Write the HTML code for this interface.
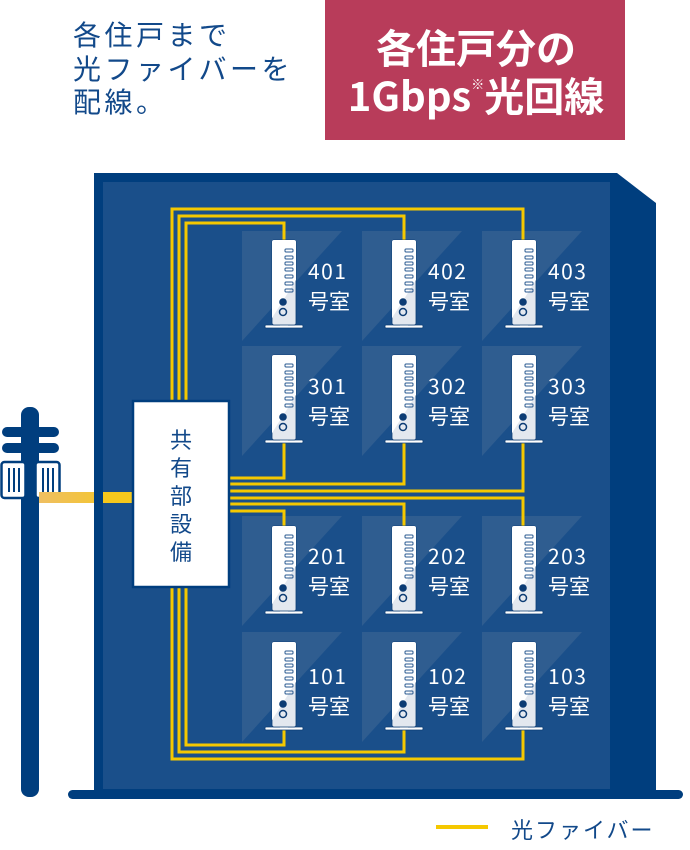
<!DOCTYPE html>
<html><head><meta charset="utf-8"><style>
html,body{margin:0;padding:0;background:#fff;width:690px;height:850px;overflow:hidden}
svg{display:block}
.t{font-family:"Liberation Sans","Noto Sans CJK JP",sans-serif}
.n{font-family:"Noto Sans CJK JP","Liberation Sans",sans-serif}
</style></head><body>
<svg width="690" height="850" viewBox="0 0 690 850" xmlns="http://www.w3.org/2000/svg">
<defs>
<linearGradient id="fg" x1="0" x2="1" y1="0" y2="0"><stop offset="0" stop-color="#efbf62"/><stop offset="1" stop-color="#f6c81c"/></linearGradient>
<clipPath id="dc"><rect x="0" y="0" width="24" height="85" rx="2"/></clipPath>
<g id="dev">
  <rect x="-7" y="85" width="38" height="3" rx="1" fill="#ffffff" stroke="#0c3c74" stroke-width="0.8"/>
  <rect x="8" y="80" width="8" height="7" fill="#ffffff"/>
  <rect x="0" y="0" width="24" height="85" rx="2" fill="#e3e8ef" stroke="#0c3c74" stroke-width="0.8"/>
  <polygon points="0,0 24,0 24,40 0,78" fill="#ffffff" clip-path="url(#dc)"/>
  <g fill="none" stroke="#2a5a90" stroke-width="1">
    <rect x="13" y="9" width="8" height="3" rx="1"/><rect x="13" y="16" width="8" height="3" rx="1"/>
    <rect x="13" y="22" width="8" height="3" rx="1"/><rect x="13" y="28" width="8" height="3" rx="1"/>
    <rect x="13" y="35" width="8" height="3" rx="1"/><rect x="13" y="42" width="8" height="3" rx="1"/>
    <rect x="13" y="49" width="8" height="3" rx="1"/>
  </g>
  <circle cx="11" cy="62" r="3.8" fill="#0c3c74"/>
  <circle cx="11" cy="72" r="3.5" fill="none" stroke="#0c3c74" stroke-width="1.5"/>
</g>
<polygon id="cell" points="0,0 100,0 0,110" fill="#2f5d90"/>
</defs>

<!-- header -->
<g class="n" fill="#12498a" font-size="28" letter-spacing="3.5">
<text x="73" y="45">各住戸まで</text>
<text x="73" y="79">光ファイバーを</text>
<text x="73" y="112">配線。</text>
</g>
<rect x="325" y="0" width="300" height="140" fill="#b83c5a"/>
<g class="n" fill="#fff" font-weight="bold" text-anchor="middle">
<text x="476" y="63" font-size="40">各住戸分の</text>
<text x="476" y="111" font-size="40">1Gbps<tspan font-size="13" dy="-22">※</tspan><tspan dy="22">光回線</tspan></text>
</g>

<!-- pole -->
<rect x="21" y="407" width="18" height="390" rx="8" fill="#003e7e"/>
<rect x="2" y="427" width="57" height="10" rx="5" fill="#003e7e"/>
<rect x="2" y="443" width="57" height="10" rx="5" fill="#003e7e"/>
<rect x="1.5" y="462" width="24" height="36" rx="3" fill="#fff" stroke="#003e7e" stroke-width="2.5"/>
<rect x="35.5" y="462" width="24" height="36" rx="3" fill="#fff" stroke="#003e7e" stroke-width="2.5"/>
<g stroke="#003e7e" stroke-width="2"><line x1="9" y1="468" x2="9" y2="492"/><line x1="14" y1="468" x2="14" y2="492"/><line x1="19" y1="468" x2="19" y2="492"/><line x1="43" y1="468" x2="43" y2="492"/><line x1="48" y1="468" x2="48" y2="492"/><line x1="53" y1="468" x2="53" y2="492"/></g>
<rect x="39" y="492" width="94" height="11" fill="url(#fg)"/>

<!-- building -->
<polygon points="94,173 617,173 656,203 656,795 94,795" fill="#003e7e"/>
<rect x="103" y="182" width="507" height="607" fill="#1a4f8a"/>
<rect x="68" y="790" width="615" height="9" rx="4.5" fill="#003e7e"/>
<rect x="103" y="492" width="30" height="11" fill="#f6c81c"/>

<!-- cells -->
<use href="#cell" x="242" y="231"/><use href="#cell" x="362" y="231"/><use href="#cell" x="482" y="231"/>
<use href="#cell" x="242" y="346"/><use href="#cell" x="362" y="346"/><use href="#cell" x="482" y="346"/>
<use href="#cell" x="242" y="516"/><use href="#cell" x="362" y="516"/><use href="#cell" x="482" y="516"/>
<use href="#cell" x="242" y="632"/><use href="#cell" x="362" y="632"/><use href="#cell" x="482" y="632"/>

<!-- fibers -->
<g fill="none" stroke="#f5c800" stroke-width="3">
<polyline points="172,402 172,209 523,209 523,242"/>
<polyline points="179,402 179,216 404,216 404,242"/>
<polyline points="186,402 186,223 284,223 284,242"/>
<polyline points="230,478 284,478 284,440"/>
<polyline points="230,484 404,484 404,440"/>
<polyline points="230,491 523,491 523,440"/>
<polyline points="230,498 523,498 523,527"/>
<polyline points="230,504 404,504 404,527"/>
<polyline points="230,511 284,511 284,527"/>
<polyline points="186,588 186,745 284,745 284,728"/>
<polyline points="179,588 179,752 404,752 404,728"/>
<polyline points="172,588 172,759 523,759 523,728"/>
</g>

<!-- box -->
<rect x="133" y="401" width="96" height="186" fill="#fff" stroke="#003e7e" stroke-width="2.5"/>
<g class="n" fill="#12498a" font-size="22" text-anchor="middle">
<text x="181" y="448">共</text><text x="181" y="476">有</text><text x="181" y="504">部</text><text x="181" y="532">設</text><text x="181" y="560">備</text>
</g>

<!-- devices -->
<use href="#dev" x="272" y="240"/><use href="#dev" x="392" y="240"/><use href="#dev" x="512" y="240"/>
<use href="#dev" x="272" y="355"/><use href="#dev" x="392" y="355"/><use href="#dev" x="512" y="355"/>
<use href="#dev" x="272" y="526"/><use href="#dev" x="392" y="526"/><use href="#dev" x="512" y="526"/>
<use href="#dev" x="272" y="642"/><use href="#dev" x="392" y="642"/><use href="#dev" x="512" y="642"/>

<!-- labels -->
<g class="n" fill="#fff" font-size="21">
<text x="308" y="279" letter-spacing="1.5">401</text><text x="308" y="309">号室</text>
<text x="428" y="279" letter-spacing="1.5">402</text><text x="428" y="309">号室</text>
<text x="548" y="279" letter-spacing="1.5">403</text><text x="548" y="309">号室</text>
<text x="308" y="394" letter-spacing="1.5">301</text><text x="308" y="424">号室</text>
<text x="428" y="394" letter-spacing="1.5">302</text><text x="428" y="424">号室</text>
<text x="548" y="394" letter-spacing="1.5">303</text><text x="548" y="424">号室</text>
<text x="308" y="564" letter-spacing="1.5">201</text><text x="308" y="594">号室</text>
<text x="428" y="564" letter-spacing="1.5">202</text><text x="428" y="594">号室</text>
<text x="548" y="564" letter-spacing="1.5">203</text><text x="548" y="594">号室</text>
<text x="308" y="684" letter-spacing="1.5">101</text><text x="308" y="714">号室</text>
<text x="428" y="684" letter-spacing="1.5">102</text><text x="428" y="714">号室</text>
<text x="548" y="684" letter-spacing="1.5">103</text><text x="548" y="714">号室</text>
</g>

<!-- legend -->
<rect x="436" y="825" width="52" height="4" fill="#f5c800"/>
<text class="n" x="511" y="838" font-size="22" fill="#12498a" letter-spacing="2">光ファイバー</text>
</svg>
</body></html>
